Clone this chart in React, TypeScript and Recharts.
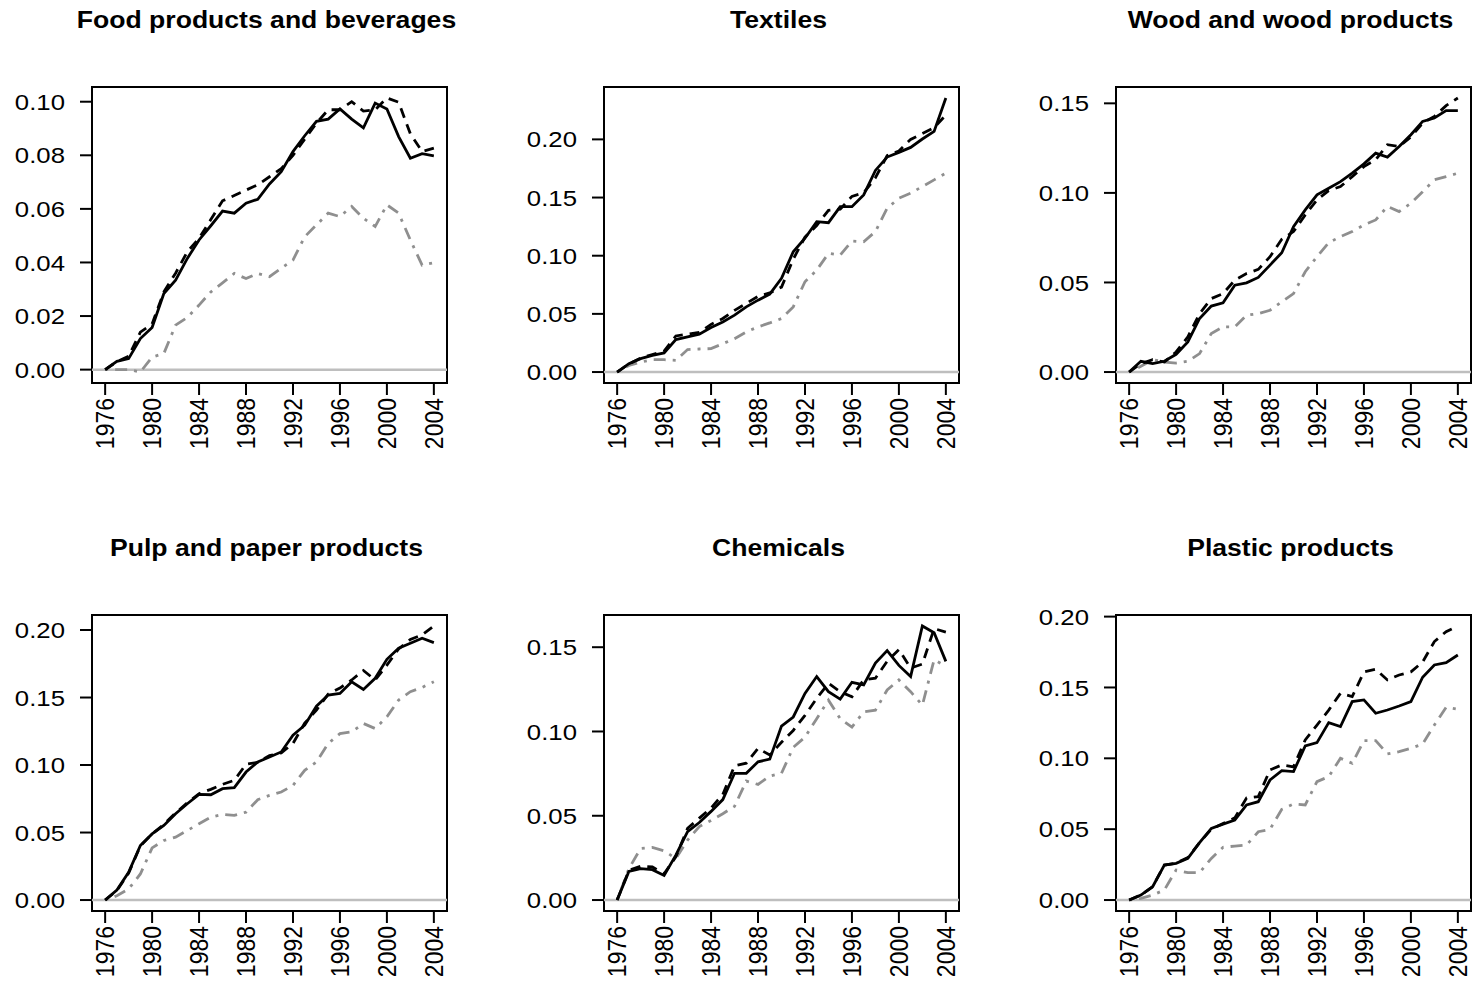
import React from "react";
import { LineChart, Line, XAxis, YAxis, ReferenceLine, ReferenceArea } from "recharts";

const years = [1976, 1977, 1978, 1979, 1980, 1981, 1982, 1983, 1984, 1985, 1986, 1987, 1988, 1989, 1990, 1991, 1992, 1993, 1994, 1995, 1996, 1997, 1998, 1999, 2000, 2001, 2002, 2003, 2004];
const xTicks = [1976, 1980, 1984, 1988, 1992, 1996, 2000, 2004];

const foodSolid = [0, 0.0031, 0.0041, 0.0116, 0.0157, 0.0284, 0.0334, 0.0415, 0.0484, 0.0537, 0.0592, 0.0584, 0.0621, 0.0636, 0.0693, 0.0739, 0.0814, 0.0873, 0.0927, 0.0935, 0.0973, 0.0935, 0.0902, 0.0995, 0.0973, 0.087, 0.0789, 0.0806, 0.0798];
const foodDashed = [0, 0.003, 0.005, 0.014, 0.017, 0.029, 0.036, 0.044, 0.049, 0.056, 0.063, 0.065, 0.067, 0.069, 0.072, 0.075, 0.08, 0.086, 0.092, 0.097, 0.097, 0.1, 0.0965, 0.097, 0.1014, 0.0998, 0.088, 0.0814, 0.0827];
const foodDotdash = [0, 0, 0, -0.0009, 0.0047, 0.006, 0.0166, 0.0195, 0.0241, 0.029, 0.0324, 0.0359, 0.034, 0.0359, 0.0347, 0.0378, 0.0409, 0.0496, 0.054, 0.0584, 0.0571, 0.0609, 0.0565, 0.0534, 0.0615, 0.0584, 0.0484, 0.039, 0.0399];

const textSolid = [0, 0.0072, 0.0115, 0.0144, 0.0164, 0.0279, 0.0302, 0.0325, 0.0382, 0.0431, 0.0489, 0.056, 0.0618, 0.067, 0.0805, 0.1034, 0.115, 0.1293, 0.1284, 0.1422, 0.1422, 0.1523, 0.1733, 0.1848, 0.1888, 0.1931, 0.2003, 0.2069, 0.2356];
const textDashed = [0, 0.007, 0.012, 0.015, 0.018, 0.031, 0.0325, 0.034, 0.041, 0.046, 0.053, 0.059, 0.065, 0.068, 0.073, 0.097, 0.116, 0.126, 0.139, 0.14, 0.151, 0.154, 0.167, 0.186, 0.19, 0.2, 0.205, 0.21, 0.221];
const textDotdash = [0, 0.0057, 0.0086, 0.0106, 0.0106, 0.0101, 0.0193, 0.0198, 0.0201, 0.0244, 0.0287, 0.0345, 0.0388, 0.0422, 0.046, 0.056, 0.0776, 0.0876, 0.102, 0.1006, 0.1126, 0.112, 0.1207, 0.1408, 0.1494, 0.1537, 0.1595, 0.1652, 0.171];

const woodSolid = [0, 0.006, 0.0047, 0.006, 0.0099, 0.0168, 0.0299, 0.0368, 0.0386, 0.0485, 0.0498, 0.0528, 0.0597, 0.0666, 0.0812, 0.0905, 0.0989, 0.1026, 0.1063, 0.111, 0.1162, 0.1222, 0.12, 0.1259, 0.1325, 0.1399, 0.1418, 0.1459, 0.1459];
const woodDashed = [0, 0.0047, 0.0069, 0.0056, 0.0112, 0.0196, 0.0326, 0.041, 0.0438, 0.0513, 0.055, 0.0573, 0.0644, 0.0741, 0.0784, 0.0877, 0.0961, 0.1013, 0.1035, 0.1091, 0.1147, 0.1185, 0.1269, 0.1259, 0.1312, 0.139, 0.1427, 0.1487, 0.153];
const woodDotdash = [0, 0.0032, 0.0069, 0.0056, 0.005, 0.006, 0.0103, 0.0215, 0.0252, 0.0252, 0.0317, 0.0326, 0.0345, 0.0392, 0.0438, 0.056, 0.0644, 0.0722, 0.0756, 0.0784, 0.0821, 0.0849, 0.0924, 0.0896, 0.0942, 0.1007, 0.1073, 0.1091, 0.111];

const pulpSolid = [0, 0.0074, 0.0206, 0.0404, 0.049, 0.0552, 0.0639, 0.0713, 0.0783, 0.078, 0.0825, 0.0832, 0.0948, 0.1023, 0.106, 0.1097, 0.1221, 0.1295, 0.1436, 0.1518, 0.153, 0.1617, 0.156, 0.1642, 0.1783, 0.1865, 0.1902, 0.1939, 0.1907];
const pulpDashed = [0, 0.007, 0.02, 0.04, 0.049, 0.056, 0.0645, 0.072, 0.0788, 0.082, 0.0857, 0.0887, 0.1005, 0.102, 0.107, 0.109, 0.116, 0.131, 0.1407, 0.1526, 0.157, 0.163, 0.17, 0.163, 0.174, 0.186, 0.193, 0.1964, 0.203];
const pulpDotdash = [0, 0.0032, 0.0082, 0.0193, 0.0386, 0.0441, 0.0466, 0.0515, 0.0565, 0.0614, 0.0634, 0.0627, 0.0651, 0.0743, 0.0775, 0.08, 0.0849, 0.0961, 0.1023, 0.1159, 0.1233, 0.1246, 0.1308, 0.127, 0.1357, 0.1481, 0.1543, 0.1575, 0.1617];

const chemSolid = [0, 0.017, 0.0186, 0.018, 0.0146, 0.0266, 0.0406, 0.046, 0.0526, 0.0596, 0.0752, 0.0752, 0.082, 0.0836, 0.1032, 0.1086, 0.1226, 0.1326, 0.1236, 0.1192, 0.1292, 0.1276, 0.1406, 0.148, 0.1392, 0.1326, 0.1626, 0.1586, 0.1416];
const chemDashed = [0, 0.0176, 0.02, 0.0196, 0.0156, 0.0256, 0.0426, 0.0486, 0.0546, 0.0626, 0.0796, 0.0812, 0.09, 0.086, 0.0936, 0.1006, 0.1096, 0.1196, 0.1286, 0.1236, 0.1206, 0.1306, 0.1316, 0.1416, 0.1486, 0.1376, 0.14, 0.161, 0.159];
const chemDotdash = [0, 0.0186, 0.0306, 0.0312, 0.0292, 0.0246, 0.0356, 0.0436, 0.0472, 0.0512, 0.0556, 0.0706, 0.0686, 0.0736, 0.0752, 0.0906, 0.0966, 0.1076, 0.1186, 0.1076, 0.1026, 0.1116, 0.1126, 0.1246, 0.1306, 0.1236, 0.1156, 0.1426, 0.1386];

const plastSolid = [0, 0.0035, 0.0094, 0.0247, 0.0259, 0.0294, 0.0405, 0.0506, 0.0536, 0.0565, 0.0671, 0.0694, 0.0847, 0.0913, 0.0906, 0.1087, 0.1111, 0.1252, 0.1224, 0.14, 0.1412, 0.1318, 0.1341, 0.1369, 0.14, 0.1572, 0.1659, 0.1675, 0.1729];
const plastDashed = [0, 0.0035, 0.0094, 0.0247, 0.026, 0.03, 0.0405, 0.05, 0.054, 0.058, 0.072, 0.073, 0.0918, 0.0953, 0.094, 0.113, 0.1235, 0.134, 0.1459, 0.1435, 0.161, 0.1628, 0.1553, 0.1588, 0.161, 0.168, 0.1824, 0.1894, 0.1934];
const plastDotdash = [0, 0.0012, 0.0035, 0.0071, 0.0212, 0.0193, 0.0193, 0.0294, 0.0372, 0.0381, 0.0388, 0.0482, 0.0499, 0.064, 0.0678, 0.0671, 0.0835, 0.0871, 0.1, 0.0965, 0.1125, 0.1125, 0.1031, 0.1047, 0.1071, 0.1101, 0.1235, 0.136, 0.1346];

const ticksFood = [0, 0.02, 0.04, 0.06, 0.08, 0.1];
const ticks20 = [0, 0.05, 0.1, 0.15, 0.2];
const ticks15 = [0, 0.05, 0.1, 0.15];

const titles = ["Food products and beverages", "Textiles", "Wood and wood products", "Pulp and paper products", "Chemicals", "Plastic products"];

const FONT = "'Liberation Sans', Arial, Helvetica, sans-serif";
const BOX_W = 355;
const BOX_H = 296;
const Y_AXIS_W = 92;
const X_AXIS_H = 100;
const PAD = 16;
const STRETCH = 1.12;
const TITLE_STRETCH = 1.155;

const panels = [
  { title: titles[0], a: foodSolid, b: foodDashed, c: foodDotdash, ticks: ticksFood, left: 92, top: 87 },
  { title: titles[1], a: textSolid, b: textDashed, c: textDotdash, ticks: ticks20, left: 604, top: 87 },
  { title: titles[2], a: woodSolid, b: woodDashed, c: woodDotdash, ticks: ticks15, left: 1116, top: 87 },
  { title: titles[3], a: pulpSolid, b: pulpDashed, c: pulpDotdash, ticks: ticks20, left: 92, top: 615 },
  { title: titles[4], a: chemSolid, b: chemDashed, c: chemDotdash, ticks: ticks15, left: 604, top: 615 },
  { title: titles[5], a: plastSolid, b: plastDashed, c: plastDotdash, ticks: ticks20, left: 1116, top: 615 },
];

const xSpan = years[years.length - 1] - years[0];
const xDomain = [years[0] - 0.04 * xSpan, years[years.length - 1] + 0.04 * xSpan];

const XTick = (props: any) => {
  const { x, y, payload } = props;
  return (
    <text
      x={x}
      y={y}
      transform={`translate(${x}, ${y}) scale(${STRETCH}, 1) rotate(-90) translate(${-x}, ${-y})`}
      textAnchor="end"
      dy="0.35em"
      fontSize={23}
      fontFamily={FONT}
      fill="#000"
    >
      {payload.value}
    </text>
  );
};

const YTick = (props: any) => {
  const { x, y, payload } = props;
  return (
    <text
      x={x}
      y={y}
      transform={`translate(${x}, ${y}) scale(${STRETCH}, 1) translate(${-x}, ${-y})`}
      textAnchor="end"
      dy="0.35em"
      fontSize={23}
      fontFamily={FONT}
      fill="#000"
    >
      {Number(payload.value).toFixed(2)}
    </text>
  );
};

const Panel = ({ p }: { p: any }) => {
  const data = years.map((yr, i) => ({ year: yr, a: p.a[i], b: p.b[i], c: p.c[i] }));
  const all = [...p.a, ...p.b, ...p.c, 0];
  const mn = Math.min(...all);
  const mx = Math.max(...all);
  const r = mx - mn;
  const yDomain = [mn - 0.04 * r, mx + 0.04 * r];
  return (
    <>
      <div
        style={{
          position: "absolute",
          left: p.left - 3,
          top: p.top - 78.5,
          width: BOX_W,
          textAlign: "center",
          fontFamily: FONT,
          fontWeight: "bold",
          fontSize: 23,
          lineHeight: "23px",
          whiteSpace: "nowrap",
          color: "#000",
          transform: `scaleX(${TITLE_STRETCH})`,
          transformOrigin: "50% 50%",
        }}
      >
        {p.title}
      </div>
      <div style={{ position: "absolute", left: p.left - Y_AXIS_W, top: p.top - PAD }}>
        <LineChart
          width={Y_AXIS_W + BOX_W + 4}
          height={BOX_H + X_AXIS_H + PAD}
          data={data}
          margin={{ top: PAD, right: 4, bottom: 0, left: 0 }}
        >
          <XAxis
            dataKey="year"
            type="number"
            domain={xDomain}
            allowDataOverflow
            ticks={xTicks}
            interval={0}
            height={X_AXIS_H}
            axisLine={false}
            tickLine={{ stroke: "#000", strokeWidth: 2 }}
            tickSize={12}
            tickMargin={3}
            tick={<XTick />}
          />
          <YAxis
            type="number"
            domain={yDomain}
            allowDataOverflow
            ticks={p.ticks}
            interval={0}
            width={Y_AXIS_W}
            axisLine={false}
            tickLine={{ stroke: "#000", strokeWidth: 2 }}
            tickSize={12}
            tickMargin={15}
            tick={<YTick />}
          />
          <ReferenceLine y={0} stroke="#bebebe" strokeWidth={2.5} ifOverflow="visible" />
          <Line type="linear" dataKey="c" stroke="#8f8f8f" strokeWidth={2.8} strokeDasharray="3 7 12 7" dot={false} isAnimationActive={false} />
          <Line type="linear" dataKey="b" stroke="#000" strokeWidth={2.8} strokeDasharray="10 7" dot={false} isAnimationActive={false} />
          <Line type="linear" dataKey="a" stroke="#000" strokeWidth={2.8} dot={false} isAnimationActive={false} />
          <ReferenceArea
            x1={xDomain[0]}
            x2={xDomain[1]}
            y1={yDomain[0]}
            y2={yDomain[1]}
            fill="none"
            fillOpacity={0}
            stroke="#000"
            strokeWidth={2}
            ifOverflow="visible"
          />
        </LineChart>
      </div>
    </>
  );
};

export default function App() {
  return (
    <div style={{ position: "absolute", left: 0, top: 0, width: 1472, height: 1000, overflow: "hidden", background: "#fff" }}>
      {panels.map((p, i) => (
        <Panel key={i} p={p} />
      ))}
    </div>
  );
}
